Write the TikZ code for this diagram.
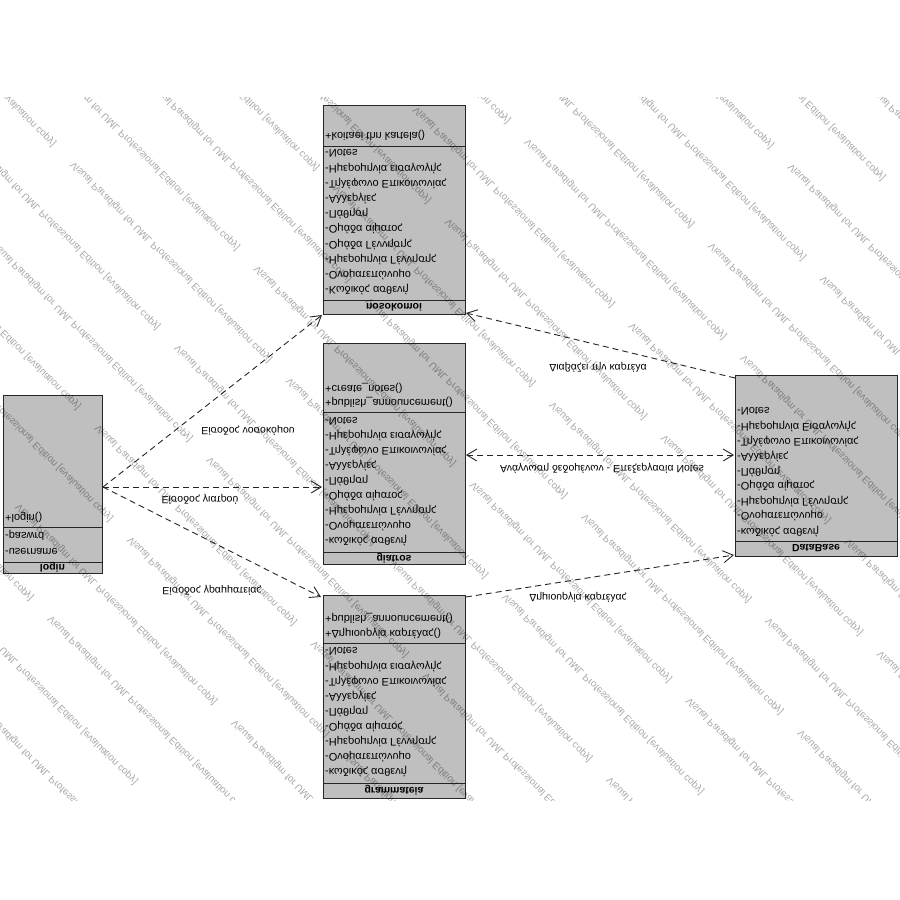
\documentclass[tikz,border=0pt]{standalone}
\usepackage{fontspec}
\setmainfont{Liberation Sans}
\usetikzlibrary{arrows.meta}
\begin{document}
\begin{tikzpicture}[x=1pt,y=1pt,
  box/.style={draw=black!85, fill=black!25, line width=0.9pt, inner sep=0pt},
  sepl/.style={draw=black!85, line width=0.9pt},
  attr/.style={anchor=west, inner sep=0pt, font=\fontsize{11}{13}\selectfont},
  ttl/.style={inner sep=0pt, font=\bfseries\fontsize{10.5}{12}\selectfont},
  lbl/.style={inner sep=0pt, font=\fontsize{10.5}{12}\selectfont},
  dep/.style={draw=black!85, line width=0.9pt, dash pattern=on 6pt off 4pt},
  tipe/.style={-{Straight Barb[length=10pt,width=12pt]}},
  tipb/.style={{Straight Barb[length=10pt,width=12pt]}-{Straight Barb[length=10pt,width=12pt]}},
  wm/.style={anchor=west, inner sep=0pt, rotate=45, font=\fontsize{10}{12}\selectfont, text=black, text opacity=0.34}
]
\begin{scope}[yscale=-1, transform shape]
\fill[white] (0,0) rectangle (900,900);
\path[use as bounding box] (0,0) rectangle (900,900);

% ---------- nosokomoi ----------
\node[box, minimum width=142pt, minimum height=209pt] (nos) at (394,209.5) {};
\draw[sepl] (323,146) -- (465,146);
\draw[sepl] (323,300) -- (465,300);
\node[ttl] (nosT) at (394,307) {nosokomoi};
\node[attr] (nosO1) at (325,135) {+koitaei thn kartela()};
\foreach \t [count=\i] in {-Notes,-Ημερομηνία εισαγωγής,-Τηλέφωνο Επικοινωνίας,-Αλλεργίες,-Πάθηση,-Ομάδα αίματος,-Ομάδα Γέννησης,-Ημερομηνία Γέννησης,-Ονοματεπώνυμο,-Κωδικός ασθενή}
  \node[attr, name=nosA\i] at (325,{153+15.2*(\i-1)}) {\t};

% ---------- giatros ----------
\node[box, minimum width=142pt, minimum height=221pt] (gia) at (394,453.5) {};
\draw[sepl] (323,412) -- (465,412);
\draw[sepl] (323,552) -- (465,552);
\node[ttl] (giaT) at (394,558) {giatros};
\node[attr] (giaO1) at (325,388) {+create\_notes()};
\node[attr] (giaO2) at (325,402) {+publish\_announcement()};
\foreach \t [count=\i] in {-Notes,-Ημερομηνία εισαγωγής,-Τηλέφωνο Επικοινωνίας,-Αλλεργίες,-Πάθηση,-Ομάδα αίματος,-Ημερομηνία Γέννησης,-Ονοματεπώνυμο,-κωδικός ασθενή}
  \node[attr, name=giaA\i] at (325,{421+14.9*(\i-1)}) {\t};

% ---------- grammateia ----------
\node[box, minimum width=142pt, minimum height=203pt] (gra) at (394,696.5) {};
\draw[sepl] (323,643) -- (465,643);
\draw[sepl] (323,783) -- (465,783);
\node[ttl] (graT) at (394,790.5) {grammateia};
\node[attr] (graO1) at (325,618) {+publish\_announcement()};
\node[attr] (graO2) at (325,633) {+Δημιουργία καρτέλας()};
\foreach \t [count=\i] in {-Notes,-Ημερομηνία εισαγωγής,-Τηλέφωνο Επικοινωνίας,-Αλλεργίες,-Πάθηση,-Ομάδα αίματος,-Ημερομηνία Γέννησης,-Ονοματεπώνυμο,-κωδικός ασθενή}
  \node[attr, name=graA\i] at (325,{651+15.1*(\i-1)}) {\t};

% ---------- login ----------
\node[box, minimum width=99pt, minimum height=178pt] (login) at (52.5,484) {};
\draw[sepl] (3,527) -- (102,527);
\draw[sepl] (3,562) -- (102,562);
\node[ttl] (loginT) at (52.5,567.5) {login};
\node[attr] (loginO1) at (5,517) {+login()};
\node[attr] (loginA1) at (5,535) {-paswrd};
\node[attr] (loginA2) at (5,551) {-username};

% ---------- DataBase ----------
\node[box, minimum width=162pt, minimum height=181pt] (db) at (816,465.5) {};
\draw[sepl] (735,541) -- (897,541);
\node[ttl] (dbT) at (816,548.5) {DataBase};
\foreach \t [count=\i] in {-Notes,-Ημερομηνία Εισαγωγής,-Τηλέφωνο Επικοινωνίας,-Αλλεργίες,-Πάθηση,-Ομάδα αίματος,-Ημερομηνία Γέννησης,-Ονοματεπώνυμο,-κωδικός ασθενή}
  \node[attr, name=dbA\i] at (737,{411+15*(\i-1)}) {\t};

% ---------- connector end points ----------
\coordinate (lgo) at (103,487);
\coordinate (nosL) at (322,315);
\coordinate (giaL) at (322,487);
\coordinate (graL) at (321,597);
\coordinate (dbA) at (735,378);
\coordinate (nosR) at (466,313);
\coordinate (giaR) at (466,455);
\coordinate (dbB) at (734,455);
\coordinate (graR) at (466,597);
\coordinate (dbC) at (734,555);

\draw[dep, tipe] (lgo) -- (nosL);
\draw[dep, tipe] (lgo) -- (giaL);
\draw[dep, tipe] (lgo) -- (graL);
\draw[dep, tipe] (dbA) -- (nosR);
\draw[dep, tipb] (giaR) -- (dbB);
\draw[dep, tipe] (graR) -- (dbC);

\node[lbl] (l1) at (248,430) {Είσοδος νοσοκόμου};
\node[lbl] (l2) at (200,499) {Είσοδος γιατρού};
\node[lbl] (l3) at (212,590) {Είσοδος γραμματείας};
\node[lbl] (l4) at (598,367) {Διαβάζει την καρτέλα};
\node[lbl] (l5) at (602,468) {Ανάγνωση δεδομένων - Επεξεργασία Notes};
\node[lbl] (l6) at (578,597) {Δημιουργία καρτέλας};

% ---------- watermark ----------
\begin{scope}
\clip (0,97) rectangle (900,800);
\foreach \k in {-5,...,19} {
  \foreach \m in {-3,...,2} {
    \pgfmathsetmacro\dd{-625+79.5*\k}
    \pgfmathsetmacro\ss{955+144*mod(abs(\k),2)+432*\m}
    \pgfmathsetmacro\xx{(\ss-\dd)/2}
    \pgfmathsetmacro\yy{(\ss+\dd)/2}
    \pgfmathsetmacro\vis{((\xx<900)&&(\yy<800)&&(\xx>-198)&&(\yy>-101)) ? 1 : 0}
    \ifdim\vis pt>0.5pt
      \node[wm, name=wm\k q\m] at (\xx,\yy) {Visual Paradigm for UML Professional Edition [evaluation copy]};
    \fi
  }
}
\end{scope}
\end{scope}
\end{tikzpicture}
\end{document}
